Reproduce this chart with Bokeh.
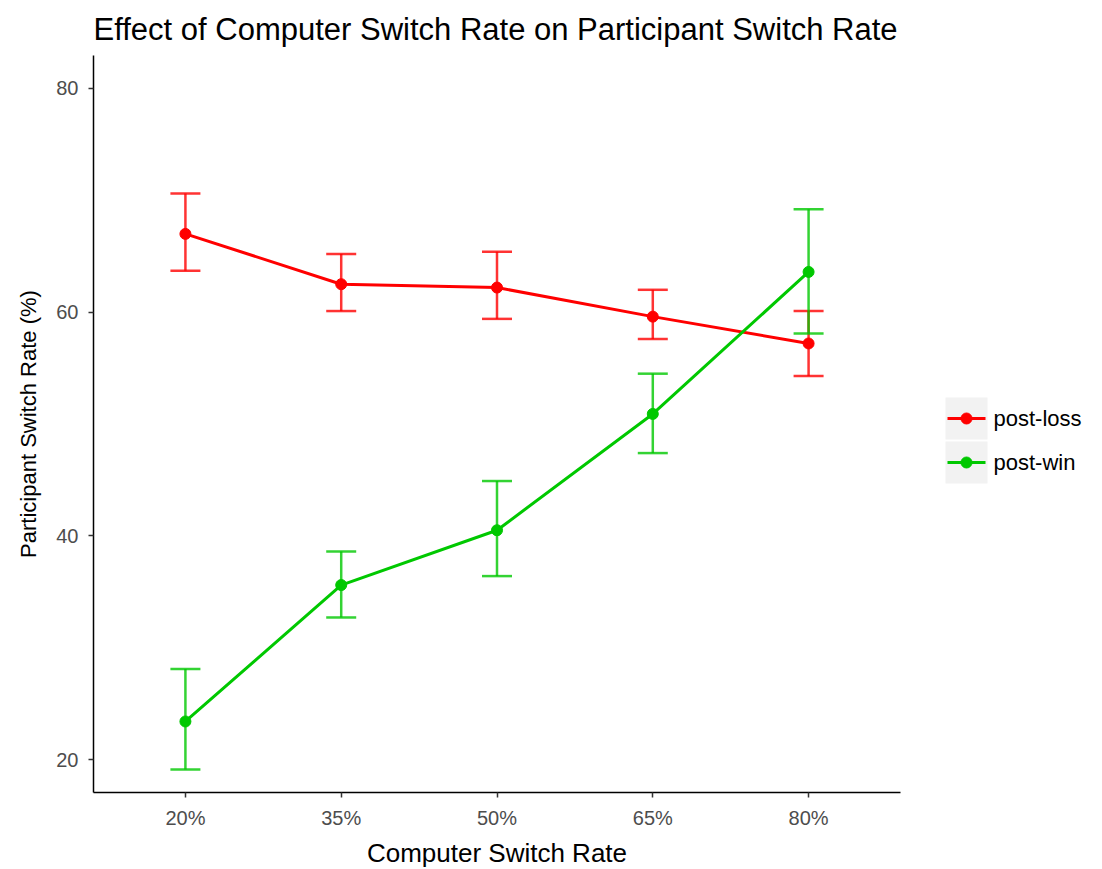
from bokeh.plotting import figure
from bokeh.models import ColumnDataSource, Whisker, TeeHead, FactorRange, Range1d, FixedTicker
from bokeh.layouts import row
from bokeh.core.properties import value
from bokeh.embed import file_html
from bokeh.resources import INLINE

# ---------------- data ----------------
categories = ["20%", "35%", "50%", "65%", "80%"]
series_names = ["post-loss", "post-win"]
series_colors = ["#FF0000", "#00C800"]

loss_mean = [67.0, 62.5, 62.2, 59.6, 57.2]
loss_upper = [70.6, 65.2, 65.4, 62.0, 60.1]
loss_lower = [63.7, 60.1, 59.4, 57.6, 54.3]

win_mean = [23.4, 35.6, 40.5, 50.9, 63.6]
win_upper = [28.1, 38.6, 44.9, 54.5, 69.2]
win_lower = [19.1, 32.7, 36.4, 47.4, 58.1]

y_ticks = [20, 40, 60, 80]

FONT = "Liberation Sans"

# ---------------- main figure ----------------
FW, FH = 807, 737
p = figure(
    x_range=FactorRange(*categories, range_padding=0.09, range_padding_units="absolute"),
    y_range=Range1d(17.05, 82.95),
    frame_width=FW, frame_height=FH,
    min_border_left=93, min_border_right=30, min_border_top=55, min_border_bottom=74,
    toolbar_location=None, output_backend="svg",
    title="Effect of Computer Switch Rate on Participant Switch Rate",
)
p.outline_line_color = None
p.xgrid.visible = False
p.ygrid.visible = False
p.background_fill_color = "white"

p.title.text_font = FONT
p.title.text_font_size = "31px"
p.title.text_font_style = "normal"
p.title.text_color = "#000000"
p.title.align = "left"
p.title.standoff = 17

for ax in (p.xaxis[0], p.yaxis[0]):
    ax.axis_line_color = "#000000"
    ax.axis_line_width = 1.5
    ax.major_tick_line_color = "#333333"
    ax.major_tick_line_width = 1.5
    ax.major_tick_out = 5
    ax.major_tick_in = 0
    ax.minor_tick_line_color = None
    ax.major_label_text_font = FONT
    ax.major_label_text_color = "#4D4D4D"
    ax.axis_label_text_font = FONT
    ax.axis_label_text_font_style = "normal"
    ax.axis_label_text_color = "#000000"

p.xaxis.axis_label = "Computer Switch Rate"
p.xaxis.axis_label_text_font_size = "26px"
p.xaxis.major_label_text_font_size = "20px"
p.xaxis.major_label_standoff = 9
p.xaxis.axis_label_standoff = 6

p.yaxis.axis_label = "Participant Switch Rate (%)"
p.yaxis.axis_label_text_font_size = "22px"
p.yaxis.major_label_text_font_size = "20px"
p.yaxis.major_label_standoff = 10
p.yaxis.axis_label_standoff = 12
p.yaxis.ticker = FixedTicker(ticks=y_ticks)

all_series = [
    (loss_mean, loss_upper, loss_lower),
    (win_mean, win_upper, win_lower),
]

for (mean, upper, lower), name, color in zip(all_series, series_names, series_colors):
    src = ColumnDataSource(dict(x=categories, y=mean, upper=upper, lower=lower))
    w = Whisker(
        source=src, base="x", upper="upper", lower="lower", dimension="height",
        line_color=color, line_width=2.5, line_alpha=0.8,
        upper_head=TeeHead(size=30, line_color=color, line_width=2.5, line_alpha=0.8),
        lower_head=TeeHead(size=30, line_color=color, line_width=2.5, line_alpha=0.8),
    )
    p.add_layout(w)
    p.line("x", "y", source=src, line_color=color, line_width=3)
    p.scatter("x", "y", source=src, size=11, fill_color=color, line_color=color)

# ---------------- legend figure (frame aligned with main frame) ----------------
LW = 156
lg = figure(
    x_range=Range1d(0, LW), y_range=Range1d(FH, 0),
    frame_width=LW, frame_height=FH,
    min_border=0, x_axis_type=None, y_axis_type=None,
    toolbar_location=None, output_backend="svg",
)
lg.title = None
lg.outline_line_color = None
lg.xgrid.visible = False
lg.ygrid.visible = False

key_cx, key_w, key_h, key_gap, key_top = 36, 42, 42, 2, 342
n = len(series_names)
cy = [key_top + key_h / 2 + i * (key_h + key_gap) for i in range(n)]
lg.rect(x=[key_cx] * n, y=cy, width=key_w, height=key_h, fill_color="#F2F2F2", line_color=None)
for i, (name, color) in enumerate(zip(series_names, series_colors)):
    lg.line(x=[key_cx - 19, key_cx + 19], y=[cy[i], cy[i]], line_color=color, line_width=3)
    lg.scatter(x=[key_cx], y=[cy[i]], size=11, fill_color=color, line_color=color)
lg.text(x=[key_cx + key_w / 2 + 6] * n, y=cy, text=series_names,
        text_font=value(FONT), text_font_size="22px", text_color="#000000",
        text_baseline="middle", text_align="left")

layout = row(p, lg, spacing=0)
open("out.html", "w").write(file_html(layout, INLINE))
